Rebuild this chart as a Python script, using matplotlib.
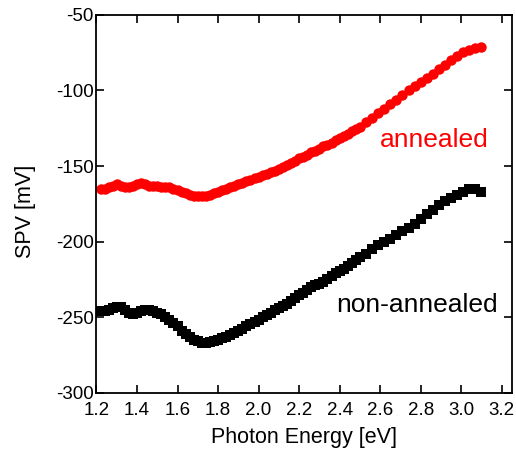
import matplotlib
matplotlib.use('Agg')
import matplotlib.pyplot as plt
import numpy as np

plt.rcParams.update({
    'font.family': ['Liberation Sans', 'DejaVu Sans'],
    'font.size': 13.5,
    'axes.linewidth': 1.3,
    'axes.unicode_minus': False,
    'xtick.direction': 'in',
    'ytick.direction': 'in',
    'xtick.top': True,
    'ytick.right': True,
    'xtick.major.size': 6,
    'ytick.major.size': 6,
    'xtick.major.width': 1.2,
    'ytick.major.width': 1.2,
    'xtick.major.pad': 6.5,
    'ytick.major.pad': 2,
})

# Photon energy [eV]
energy = [1.22, 1.24, 1.26, 1.28, 1.30, 1.32, 1.34, 1.36, 1.38, 1.40,
          1.42, 1.44, 1.46, 1.48, 1.50, 1.52, 1.54, 1.56, 1.58, 1.60,
          1.62, 1.64, 1.66, 1.68, 1.70, 1.72, 1.74, 1.76, 1.78, 1.80,
          1.82, 1.84, 1.86, 1.88, 1.90, 1.92, 1.94, 1.96, 1.98, 2.00,
          2.02, 2.04, 2.06, 2.08, 2.10, 2.12, 2.14, 2.16, 2.18, 2.20,
          2.22, 2.24, 2.26, 2.28, 2.30, 2.32, 2.34, 2.36, 2.38, 2.40,
          2.42, 2.44, 2.46, 2.48, 2.50, 2.53, 2.56, 2.59, 2.62, 2.65,
          2.68, 2.71, 2.74, 2.77, 2.80, 2.83, 2.86, 2.89, 2.92, 2.95,
          2.98, 3.01, 3.04, 3.07, 3.10]

# SPV [mV], annealed sample
spv_annealed = [-165, -165, -164, -163, -162, -163, -164, -164, -163, -162,
                -161, -162, -163, -163, -163, -164, -164, -164, -165, -166,
                -167, -168, -169, -170, -170, -170, -169.5, -169, -168, -167,
                -166, -165, -164, -163, -162, -161, -160, -159, -158, -157,
                -156, -155, -154, -153, -152, -150.5, -149, -148, -146.5, -145,
                -144, -142.5, -141, -140, -138.5, -137, -136, -134.5, -133, -131.5,
                -130, -128.5, -127, -125.5, -124, -121, -118, -115, -112, -109,
                -106, -103, -100, -97, -94.5, -92, -89, -86, -83, -80,
                -77, -74.5, -73, -72, -71.5]

# SPV [mV], non-annealed sample
spv_nonannealed = [-246, -246, -245, -244, -243, -243.5, -245, -247, -248, -247.5,
                   -246, -245, -245, -246, -247, -248, -250, -252, -254, -256,
                   -259, -261, -263, -265, -266, -267, -267, -266.5, -266, -265,
                   -264, -263, -262, -260.5, -259, -257.5, -256, -254.5, -253, -251.5,
                   -250, -248.5, -247, -245.5, -244, -242.5, -241, -239, -237, -235.5,
                   -234, -232, -230, -229, -228, -226.5, -225, -223, -221, -219.5,
                   -218, -216, -214, -212, -210, -208, -205, -202, -200, -198,
                   -195.5, -193, -191, -188, -185, -182, -179, -176, -173, -171,
                   -169, -167, -165.5, -165, -167]

fig = plt.figure(figsize=(5.16, 4.51), dpi=100)
ax = fig.add_axes([0.187, 0.129, 0.805, 0.838])

ax.plot(energy, spv_annealed, 'o', color='red', markersize=7.5, markeredgewidth=0)
ax.plot(energy, spv_nonannealed, 's', color='black', markersize=7, markeredgewidth=0)

ax.text(2.865, -133, 'annealed', color='red', fontsize=19, ha='center', va='center')
ax.text(2.78, -242, 'non-annealed', color='black', fontsize=19, ha='center', va='center')

ax.set_xlim(1.2, 3.25)
ax.set_ylim(-300, -50)
xt = np.arange(1.2, 3.21, 0.2)
ax.set_xticks(xt)
ax.set_xticklabels([f'{v:.1f}' for v in xt])
ax.set_yticks(np.arange(-300, -49, 50))
ax.set_xlabel('Photon Energy [eV]', fontsize=15.5, va='center')
ax.set_ylabel('SPV [mV]', fontsize=15.5, va='center')
ax.xaxis.set_label_coords(0.5, -0.118)
ax.yaxis.set_label_coords(-0.172, 0.48)

fig.savefig('out.png', dpi=100)
